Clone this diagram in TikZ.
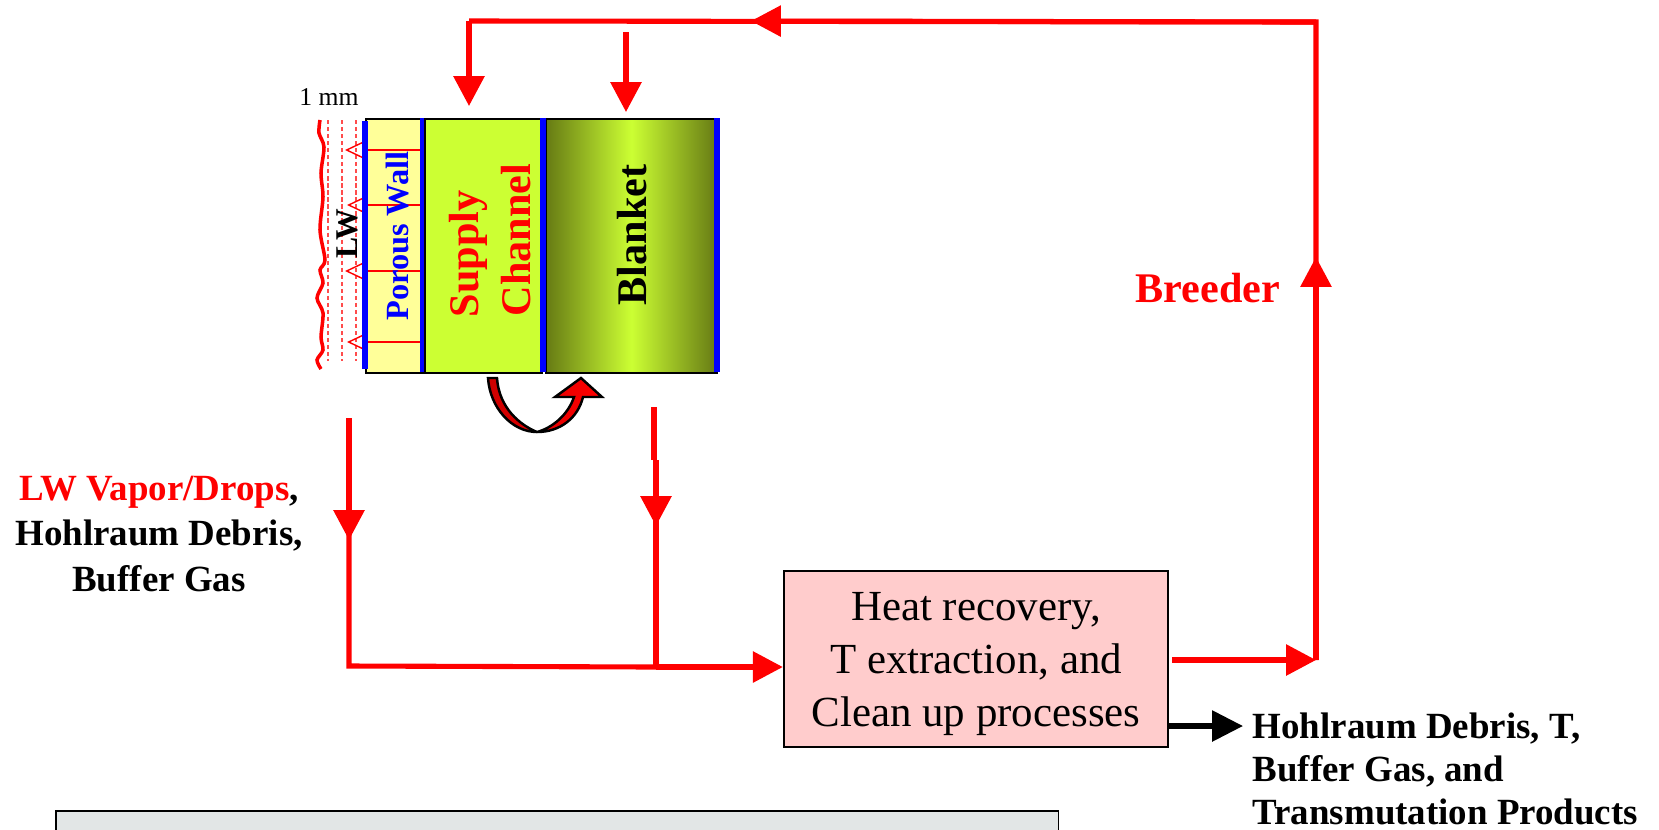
\documentclass[tikz,border=0pt]{standalone}
\usepackage{fontspec}
\setmainfont{Liberation Serif}
\usepackage{xcolor}
\usetikzlibrary{arrows.meta,positioning,calc}
\definecolor{wallyellow}{HTML}{FFFF99}
\definecolor{supplygreen}{HTML}{CCFF33}
\definecolor{blanketdark}{HTML}{667A14}
\definecolor{recoverypink}{HTML}{FFCCCC}
\definecolor{panelgray}{HTML}{E2E6E6}
\tikzset{%
        flow/.style = { draw=red, line width=1.45pt },
     flowhead/.style = { flow, -{Triangle[length=8.5pt,width=8.6pt,fill=red]} },
     blackhead/.style = { draw=black, line width=1.45pt, -{Triangle[length=8.8pt,width=8.6pt,fill=black]} },
       seep/.style = { draw=red, line width=0.4pt, -{Triangle[open,length=5.6pt,width=5.2pt]} },
       film/.style = { draw=red!70!white, line width=0.35pt, dashed, dash pattern=on 1.2pt off 0.8pt },
      block/.style = { draw=black, line width=0.5pt, anchor=north west, inner sep=0pt },
    bluebar/.style = { draw=blue, line width=1.5pt },
   biglabel/.style = { font=\fontsize{12pt}{14pt}\selectfont\bfseries, rotate=90, inner sep=0pt },
  sidelabel/.style = { font=\fontsize{10.5pt}{13pt}\selectfont\bfseries, inner sep=0pt }
}
\begin{document}
\begin{tikzpicture}[x=0.01cm,y=-0.01cm]
\useasboundingbox (0,0) rectangle (1659,829);
% test section
\node[block,fill=wallyellow,minimum width=1.55cm,minimum height=2.54cm] (wall) at (365,118) {};
\node[block,fill=supplygreen,minimum width=1.17cm,minimum height=2.54cm] (supply) at (424,118) {};
\node[block,left color=blanketdark,right color=blanketdark,middle color=supplygreen,minimum width=1.71cm,minimum height=2.54cm] (blanket) at (545,118) {};
\foreach \xfilm in {328,342,356}
  \draw[film] (\xfilm,120) -- (\xfilm,361);
\draw[red,line width=1pt] plot[smooth] coordinates {(320,120) (319,133) (324,147) (321,173) (323,197) (320,230) (325,260) (320,270) (323,283) (317,298) (323,313) (321,337) (323,350) (317,360) (321,369)};
\foreach \yseep/\xtip in {150/345,205/347,271/345,342/347}
  \draw[seep] (424,\yseep) -- (\xtip,\yseep);
\draw[bluebar] (365,121) -- (365,369);
\draw[bluebar,line width=1.2pt] (422,118) -- (422,372);
\draw[bluebar] (543,118) -- (543,372);
\draw[bluebar] (717,118) -- (717,372);
\node[font=\fontsize{7.3pt}{8pt}\selectfont,inner sep=0pt] (mm) at (329,97) {1 mm};
\node[biglabel,font=\fontsize{9pt}{10pt}\selectfont\bfseries] (lw) at (347,234) {LW};
\node[biglabel,blue,font=\fontsize{9.2pt}{10pt}\selectfont\bfseries] (porous) at (398,236) {Porous Wall};
\node[biglabel,red] (sup) at (468,254) {Supply};
\node[biglabel,red] (chan) at (516,240) {Channel};
\node[biglabel] (blk) at (632,235) {Blanket};
% curved arrow
\draw[black,line width=0.7pt,left color=red!80!black,right color=red] (488,378) .. controls (490,408) and (512,432) .. (537,432) .. controls (560,432) and (578,418) .. (583,397) -- (602,397) -- (581,378) -- (555,397) -- (574,397) .. controls (568,415) and (552,428) .. (537,432) .. controls (520,425) and (499,408) .. (497,378) -- cycle;
% loop
\node[block,anchor=center,fill=recoverypink,line width=0.6pt,minimum width=3.84cm,minimum height=1.76cm] (recovery) at (976,659) {};
\node[align=center,inner sep=0pt,font=\fontsize{12.2pt}{15pt}\selectfont] (recoverytext) at (976,664) {Heat recovery,\\T extraction, and\\Clean up processes};
\coordinate (outlet) at (1172,660);
\coordinate (corner) at (1316,660);
\coordinate (risemid) at (1316,257);
\coordinate (topright) at (1316,22);
\coordinate (topmid) at (751,21);
\coordinate (topleft) at (469,21);
\coordinate (supplyin) at (469,106);
\coordinate (blankfrom) at (626,32);
\coordinate (blankin) at (626,112);
\coordinate (lwfrom) at (349,418);
\coordinate (lwmid) at (349,540);
\coordinate (lwcorner) at (349,666);
\coordinate (blankout) at (654,407);
\coordinate (jogtop) at (654,460);
\coordinate (jog) at (656,460);
\coordinate (blankmid) at (656,526);
\coordinate (tee) at (656,667);
\draw[flowhead] (outlet) -- (corner);
\draw[flow] (corner) -- (topright) -- (topleft);
\draw[flowhead] (corner) -- (risemid);
\draw[flowhead] (topright) -- (topmid);
\draw[flowhead] (topleft) -- (supplyin);
\draw[flowhead] (blankfrom) -- (blankin);
\draw[flow] (lwfrom) -- (lwcorner) -- (tee);
\draw[flowhead] (lwfrom) -- (lwmid);
\draw[flow] (blankout) -- (jogtop);
\draw[flow] (jog) -- (tee);
\draw[flowhead] (jog) -- (blankmid);
\draw[flowhead] (tee) -- (tee -| recovery.west);
\coordinate (wastefrom) at (1168,726);
\coordinate (wastetip) at (1243,726);
\draw[blackhead] (wastefrom) -- (wastetip);
% labels
\node[font=\fontsize{12pt}{14pt}\selectfont\bfseries,red,inner sep=0pt] (breeder) at (1208,288) {Breeder};
\node[sidelabel,align=center] (vapor) at (159,534) {\textcolor{red}{LW Vapor/Drops},\\Hohlraum Debris,\\Buffer Gas};
\node[sidelabel,align=left,anchor=north west,font=\fontsize{10.5pt}{12.3pt}\selectfont\bfseries] (waste) at (1252,712) {Hohlraum Debris, T,\\Buffer Gas, and\\Transmutation Products};
\node[block,fill=panelgray,minimum width=10.02cm,minimum height=0.4cm] (panel) at (55,810) {};
\end{tikzpicture}
\end{document}
